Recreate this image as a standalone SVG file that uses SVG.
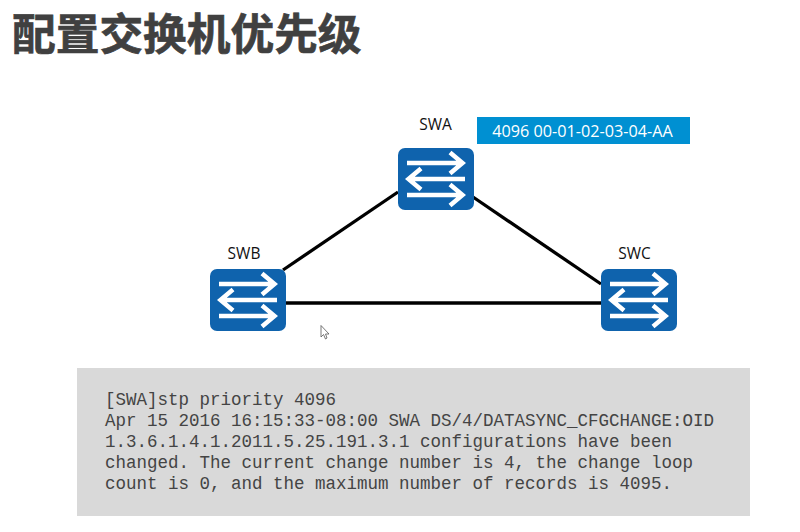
<svg xmlns="http://www.w3.org/2000/svg" width="800" height="532" viewBox="0 0 800 532">
  <style>
    .title { font-family: "Noto Sans CJK SC", sans-serif; font-weight: 700; font-size: 43.7px; fill: #404040; stroke: #404040; stroke-width: 0.7px; }
    .label { font-family: "Open Sans", "Noto Sans", sans-serif; font-size: 15.5px; fill: #111; text-anchor: middle; }
    .tag { font-family: "Open Sans", "Noto Sans", sans-serif; font-size: 16.2px; fill: #fff; text-anchor: middle; }
    .code { font-family: "Liberation Mono", monospace; font-size: 17.5px; fill: #444; }
    .link { stroke: #000; stroke-width: 3.3; fill: none; }
    .box { fill: #0f63ad; }
    .arr { stroke: #fff; stroke-width: 4.5; fill: none; }
  </style>
  <defs>
    <g id="switch">
      <rect class="box" width="76" height="62" rx="7"/>
      <path class="arr" d="M9 15H64M52 4.500L64.500 15L52 25.500"/>
      <path class="arr" d="M67 31H11M23 20.500L10.500 31L23 41.500"/>
      <path class="arr" d="M9 47H64M52 36.500L64.500 47L52 57.500"/>
    </g>
  </defs>
  <rect width="800" height="532" fill="#fff"/>
  <text id="title" class="title" x="12" y="49.500">配置交换机优先级</text>
  <g id="connectors">
    <line class="link" x1="398" y1="192" x2="283" y2="270"/>
    <line class="link" x1="473" y1="197" x2="601" y2="284"/>
    <line class="link" x1="286" y1="303" x2="601" y2="303"/>
  </g>
  <g id="SWA">
    <text class="label" x="435.500" y="130">SWA</text>
    <use href="#switch" x="398" y="148"/>
  </g>
  <g id="SWB">
    <text class="label" x="244" y="259">SWB</text>
    <use href="#switch" x="210" y="269"/>
  </g>
  <g id="SWC">
    <text class="label" x="634.500" y="259">SWC</text>
    <use href="#switch" x="601" y="269"/>
  </g>
  <g id="priority-tag">
    <rect x="477" y="117" width="213" height="27" fill="#0090d2"/>
    <text class="tag" x="582.500" y="136.500">4096 00-01-02-03-04-AA</text>
  </g>
  <path id="cursor" d="M321 325.500V337L323.500 334.500L325.500 339L327 338L325.500 334H329Z" fill="#fff" stroke="#555" stroke-width="0.800"/>
  <g id="console">
    <rect x="77" y="368" width="673" height="148" fill="#d9d9d9"/>
    <text class="code" x="105" y="405">[SWA]stp priority 4096</text>
    <text class="code" x="105" y="426">Apr 15 2016 16:15:33-08:00 SWA DS/4/DATASYNC_CFGCHANGE:OID</text>
    <text class="code" x="105" y="447">1.3.6.1.4.1.2011.5.25.191.3.1 configurations have been</text>
    <text class="code" x="105" y="468">changed. The current change number is 4, the change loop</text>
    <text class="code" x="105" y="489">count is 0, and the maximum number of records is 4095.</text>
  </g>
</svg>
